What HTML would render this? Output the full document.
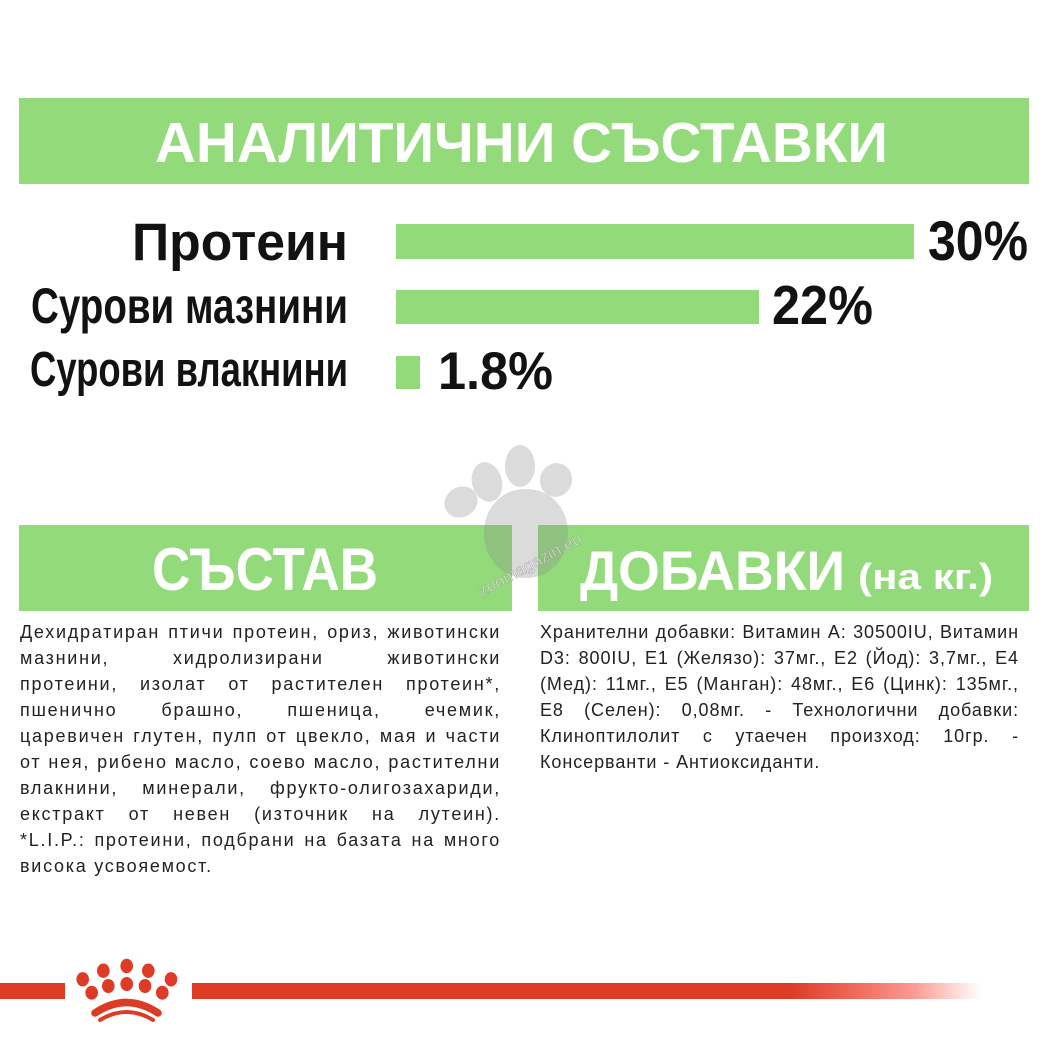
<!DOCTYPE html>
<html><head><meta charset="utf-8">
<style>
*{margin:0;padding:0;box-sizing:border-box}
html,body{width:1049px;height:1049px;background:#fff;overflow:hidden}
body{position:relative;font-family:"Liberation Sans","DejaVu Sans",sans-serif}
.g{position:absolute;background:#93da7b}
.t{position:absolute;white-space:nowrap;line-height:1;font-weight:bold;transform-origin:0 0}
.w{color:#fff}
.k{color:#121212}
.p{position:absolute;font-size:18px;line-height:26px;color:#222}
.p div{text-align:justify;text-align-last:justify}
.p div.l{text-align-last:left}
.p.m div{text-align:left;text-align-last:left}
svg{position:absolute;left:0;top:0}
</style></head><body>

<!-- top banner -->
<div class="g" style="left:19px;top:98px;width:1010px;height:86px"></div>
<div class="t w" style="left:155px;top:114.5px;font-size:57px;--w:733px;transform:scaleX(0.99)">АНАЛИТИЧНИ СЪСТАВКИ</div>

<!-- bars -->
<div class="g" style="left:396px;top:224px;width:518px;height:35px"></div>
<div class="g" style="left:396px;top:290px;width:363px;height:34px"></div>
<div class="g" style="left:396px;top:356px;width:24px;height:33px"></div>

<div class="t k" style="left:132px;top:216px;font-size:53px;--w:216px;transform:scaleX(0.96)">Протеин</div>
<div class="t k" style="left:31px;top:281.4px;font-size:50px;--w:317px;transform:scaleX(0.78)">Сурови мазнини</div>
<div class="t k" style="left:30px;top:345.5px;font-size:49px;--w:318px;transform:scaleX(0.77)">Сурови влакнини</div>

<div class="t k" style="left:928px;top:212.6px;font-size:56px;--w:100px;transform:scaleX(0.89)">30%</div>
<div class="t k" style="left:772px;top:278.9px;font-size:54.5px;--w:101px;transform:scaleX(0.93)">22%</div>
<div class="t k" style="left:438px;top:345px;font-size:53px;--w:115px;transform:scaleX(0.95)">1.8%</div>

<!-- section banners -->
<div class="g" style="left:19px;top:525px;width:493px;height:86px"></div>
<div class="g" style="left:538px;top:525px;width:491px;height:86px"></div>

<!-- paw watermark (above banners) -->
<svg width="1049" height="1049" viewBox="0 0 1049 1049">
  <g fill="#888" fill-opacity="0.3">
    <ellipse cx="461" cy="502" rx="17" ry="15" transform="rotate(-30 461 502)"/>
    <ellipse cx="487" cy="482" rx="15" ry="20" transform="rotate(-15 487 482)"/>
    <ellipse cx="520" cy="466" rx="15" ry="21"/>
    <ellipse cx="556" cy="480" rx="16" ry="17" transform="rotate(20 556 480)"/>
    <path d="M526 489 C553 489 569 511 568 535 C567 560 549 578 526 578 C503 578 485 560 484 535 C483 511 499 489 526 489 Z"/>
  </g>
  <text x="482" y="597" transform="rotate(-28.6 482 597)" font-family="Liberation Sans, sans-serif" font-size="17" fill="#ffffff" fill-opacity="0.55" stroke="#8a8a8a" stroke-opacity="0.6" stroke-width="0.6">zoomagazin.eu</text>
</svg>

<div class="t w" style="left:152px;top:540px;font-size:60px;--w:226px;transform:scaleX(0.88)">СЪСТАВ</div>
<div class="t w" style="left:580px;top:542.6px;font-size:56px;--w:265px;transform:scaleX(0.93)">ДОБАВКИ</div>
<div class="t w" style="left:858px;top:558.5px;font-size:36px;--w:135px;transform:scaleX(1.1)">(на кг.)</div>

<!-- paragraphs -->
<div class="p" style="left:20px;top:619px;width:481px">
<div>Дехидратиран птичи протеин, ориз, животински</div>
<div>мазнини, хидролизирани животински</div>
<div>протеини, изолат от растителен протеин*,</div>
<div>пшенично брашно, пшеница, ечемик,</div>
<div>царевичен глутен, пулп от цвекло, мая и части</div>
<div>от нея, рибено масло, соево масло, растителни</div>
<div>влакнини, минерали, фрукто-олигозахариди,</div>
<div>екстракт от невен (източник на лутеин).</div>
<div>*L.I.P.: протеини, подбрани на базата на много</div>
<div class="l">висока усвояемост.</div>
</div>

<div class="p" style="left:540px;top:619px;width:479px">
<div>Хранителни добавки: Витамин А: 30500IU, Витамин</div>
<div>D3: 800IU, E1 (Желязо): 37мг., E2 (Йод): 3,7мг., E4</div>
<div>(Мед): 11мг., E5 (Манган): 48мг., E6 (Цинк): 135мг.,</div>
<div>E8 (Селен): 0,08мг. - Технологични добавки:</div>
<div>Клиноптилолит с утаечен произход: 10гр. -</div>
<div class="l">Консерванти - Антиоксиданти.</div>
</div>

<!-- bottom red line + crown -->
<svg width="1049" height="1049" viewBox="0 0 1049 1049">
  <defs>
    <linearGradient id="rg" gradientUnits="userSpaceOnUse" x1="790" y1="0" x2="982" y2="0">
      <stop offset="0" stop-color="#dd3b26"/>
      <stop offset="0.4" stop-color="#f27364"/>
      <stop offset="0.65" stop-color="#fb9c94"/>
      <stop offset="0.85" stop-color="#fdd6d2"/>
      <stop offset="1" stop-color="#ffffff"/>
    </linearGradient>
  </defs>
  <rect x="0" y="983" width="65" height="16" fill="#dd3b26"/>
  <rect x="192" y="983" width="790" height="16" fill="url(#rg)"/>
  <g fill="#dd3b26">
    <ellipse cx="82.7" cy="979.3" rx="6.3" ry="7.2"/>
    <ellipse cx="103.3" cy="970.7" rx="6.3" ry="7.2"/>
    <ellipse cx="126.7" cy="966" rx="6.3" ry="7.2"/>
    <ellipse cx="148.3" cy="970.7" rx="6.3" ry="7.2"/>
    <ellipse cx="171" cy="979.3" rx="6.3" ry="7.2"/>
    <ellipse cx="91.7" cy="992.7" rx="6.3" ry="7"/>
    <ellipse cx="108.3" cy="986" rx="6.3" ry="7"/>
    <ellipse cx="126.7" cy="984" rx="6.3" ry="7"/>
    <ellipse cx="145" cy="986" rx="6.3" ry="7"/>
    <ellipse cx="162.3" cy="992.7" rx="6.3" ry="7"/>
  </g>
  <path d="M95 1013 Q126.7 992 158 1013" fill="none" stroke="#dd3b26" stroke-width="7.5" stroke-linecap="round"/>
  <path d="M100 1020 Q126.7 1004 153 1020" fill="none" stroke="#dd3b26" stroke-width="4" stroke-linecap="round"/>
</svg>

<script>
(function(){
  document.querySelectorAll('.t').forEach(function(el){
    var tw=parseFloat(getComputedStyle(el).getPropertyValue('--w'));
    if(!tw) return;
    el.style.transform='none';
    var nw=el.getBoundingClientRect().width;
    if(nw>0) el.style.transform='scaleX('+(tw/nw)+')';
  });
  document.querySelectorAll('.p').forEach(function(p){
    var W=p.clientWidth, ls=10;
    p.classList.add('m');
    Array.prototype.forEach.call(p.children,function(d){
      if(d.classList.contains('l')) return;
      var txt=d.textContent;
      var s=document.createElement('span');
      s.style.whiteSpace='nowrap';
      s.textContent=txt;
      d.textContent='';
      d.appendChild(s);
      var w=s.getBoundingClientRect().width;
      d.textContent=txt;
      var v=(W-w)/txt.length;
      if(v<ls) ls=v;
    });
    p.classList.remove('m');
    ls=Math.max(0,ls-0.05);
    if(ls>2) ls=2;
    p.style.letterSpacing=ls+'px';
  });
})();
</script>
</body></html>
